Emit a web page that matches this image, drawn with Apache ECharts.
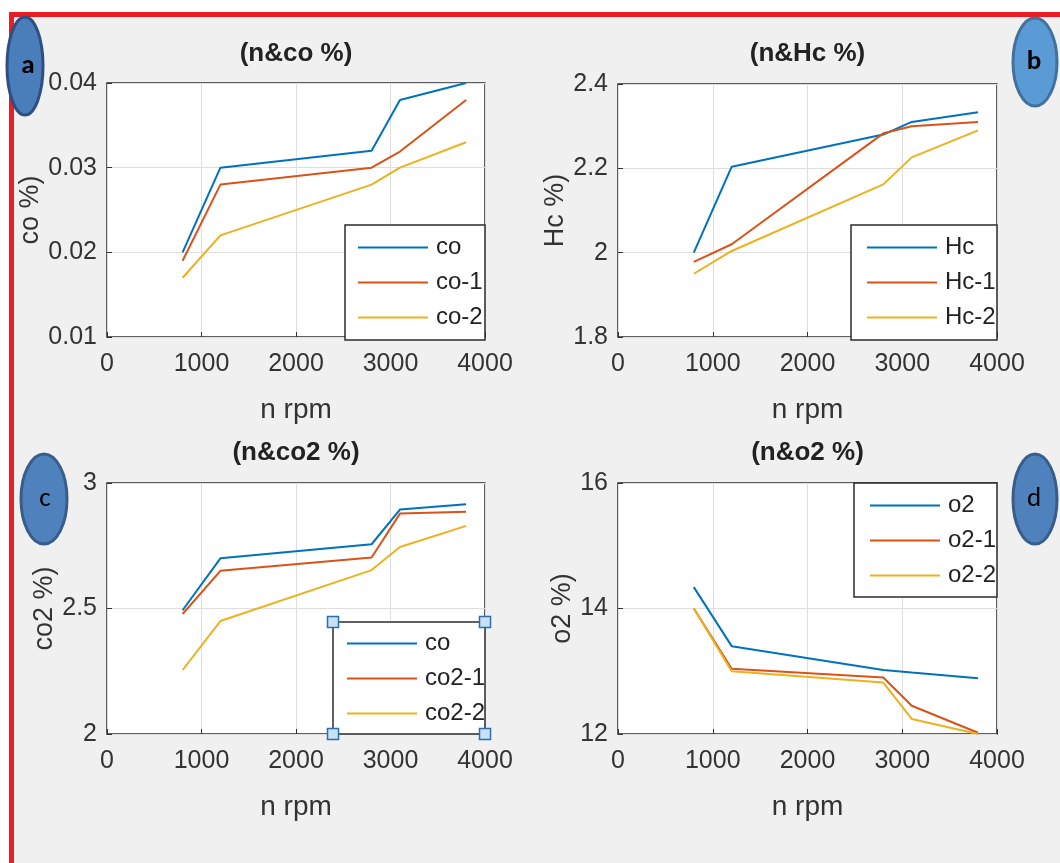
<!DOCTYPE html>
<html>
<head>
<meta charset="utf-8">
<script src="https://cdn.jsdelivr.net/npm/echarts@6/dist/echarts.min.js"></script>
<style>
  html, body { margin: 0; padding: 0; background: #fff; }
  #chart { width: 1060px; height: 863px; }
</style>
</head>
<body>
<div id="chart"></div>
<script>
// engine speed (rpm) shared by all four panels
const rpm = [800, 1200, 2800, 3100, 3800];

// (a) co %
const coA = [0.020, 0.030, 0.032, 0.038, 0.040];
const coA1 = [0.019, 0.028, 0.030, 0.0319, 0.038];
const coA2 = [0.017, 0.022, 0.028, 0.030, 0.033];

// (b) Hc %
const hc = [2.00, 2.204, 2.28, 2.31, 2.333];
const hc1 = [1.978, 2.02, 2.283, 2.30, 2.31];
const hc2 = [1.95, 2.004, 2.162, 2.226, 2.29];

// (c) co2 %
const co2 = [2.493, 2.70, 2.756, 2.894, 2.915];
const co21 = [2.478, 2.65, 2.703, 2.878, 2.885];
const co22 = [2.255, 2.45, 2.653, 2.745, 2.829];

// (d) o2 %
const o2 = [14.34, 13.40, 13.02, 12.98, 12.89];
const o21 = [14.0, 13.04, 12.90, 12.45, 12.02];
const o22 = [14.0, 13.0, 12.82, 12.24, 12.0];

const titles = ["(n&co %)", "(n&Hc %)", "(n&co2 %)", "(n&o2 %)"];
const yNames = ["co %)", "Hc %)", "co2 %)", "o2 %)"];
const yRanges = [[0.01, 0.04, 0.01], [1.8, 2.4, 0.2], [2, 3, 0.5], [12, 16, 2]];
const seriesNames = [
  ["co", "co-1", "co-2"],
  ["Hc", "Hc-1", "Hc-2"],
  ["co", "co2-1", "co2-2"],
  ["o2", "o2-1", "o2-2"]
];
const seriesValues = [
  [coA, coA1, coA2],
  [hc, hc1, hc2],
  [co2, co21, co22],
  [o2, o21, o22]
];

const FONT = "Liberation Sans, Arial, sans-serif";
const colors = ["#0072BD", "#D95319", "#EDB120"];
const txt = "#333333";

// panel plot boxes
const grids = [
  { left: 107, top: 83, width: 378, height: 254 },
  { left: 618, top: 84, width: 379, height: 253 },
  { left: 107, top: 483, width: 378, height: 251 },
  { left: 618, top: 483, width: 379, height: 251 }
];
const yNameGaps = [56, 48, 45, 42];
const legendPos = [[358, 235], [867, 235], [347, 631], [870, 493]];
const legendBoxes = [
  [345, 225, 140, 115],
  [851, 225, 146, 115],
  [333, 622, 152, 112],
  [854, 483, 143, 114]
];

const chart = echarts.init(document.getElementById("chart"));

const xAxis = [];
const yAxis = [];
const series = [];
const legend = [];
const title = [];

grids.forEach(function (g, i) {
  xAxis.push({
    type: "value", gridIndex: i, min: 0, max: 4000, interval: 1000,
    name: "n rpm", nameLocation: "middle", nameGap: 59,
    nameTextStyle: { fontSize: 28, color: txt, fontFamily: FONT },
    axisLine: { show: false },
    axisTick: { inside: true, length: 5, lineStyle: { color: txt } },
    axisLabel: { fontSize: 25, color: txt, fontFamily: FONT, margin: 15,
      formatter: function (v) { return String(v); } },
    splitLine: { lineStyle: { color: "#dedede" } }
  });
  yAxis.push({
    type: "value", gridIndex: i,
    min: yRanges[i][0], max: yRanges[i][1], interval: yRanges[i][2],
    name: yNames[i], nameLocation: "middle", nameGap: yNameGaps[i],
    nameTextStyle: { fontSize: 27, color: txt, fontFamily: FONT },
    axisLine: { show: false },
    axisTick: { inside: true, length: 5, lineStyle: { color: txt } },
    axisLabel: { fontSize: 25, color: txt, fontFamily: FONT, margin: 10 },
    splitLine: { lineStyle: { color: "#dedede" } }
  });
  seriesNames[i].forEach(function (nm, k) {
    series.push({
      name: nm, type: "line", xAxisIndex: i, yAxisIndex: i,
      symbol: "none", color: colors[k],
      lineStyle: { width: 2, color: colors[k] },
      data: rpm.map(function (x, j) { return [x, seriesValues[i][k][j]]; })
    });
  });
  legend.push({
    data: seriesNames[i], orient: "vertical",
    left: legendPos[i][0], top: legendPos[i][1], padding: 0,
    icon: "rect", itemWidth: 70, itemHeight: 2, itemGap: 10, selectedMode: false,
    textStyle: { fontSize: 24, lineHeight: 25, color: "#222", fontFamily: FONT, padding: [0, 0, 0, 3] }
  });
  title.push({
    text: titles[i], left: g.left + g.width / 2, textAlign: "center",
    top: i < 2 ? 41 : 440, padding: 0,
    textStyle: { fontSize: 26, fontWeight: "bold", color: "#222", fontFamily: FONT }
  });
});

// frame, legend boxes and panel letters
const graphic = [
  { type: "rect", z: -10, shape: { x: 14, y: 17, width: 1046, height: 846 }, style: { fill: "#f0f0f0" } },
  { type: "rect", z: 20, shape: { x: 9, y: 12, width: 1051, height: 5 }, style: { fill: "#ed1c24" } },
  { type: "rect", z: 20, shape: { x: 9, y: 12, width: 5, height: 851 }, style: { fill: "#ed1c24" } }
];
legendBoxes.forEach(function (b) {
  graphic.push({
    type: "rect", z: 3, shape: { x: b[0], y: b[1], width: b[2], height: b[3] },
    style: { fill: "#fff", stroke: "#2b2b2b", lineWidth: 1.5 }
  });
});
// selection handles on legend (c)
const lb = legendBoxes[2];
[[lb[0], lb[1]], [lb[0] + lb[2], lb[1]], [lb[0], lb[1] + lb[3]], [lb[0] + lb[2], lb[1] + lb[3]]].forEach(function (p) {
  graphic.push({
    type: "rect", z: 6, shape: { x: p[0] - 5.5, y: p[1] - 5.5, width: 11, height: 11 },
    style: { fill: "#c9e1f5", stroke: "#2a70b0", lineWidth: 1.5 }
  });
});
const badges = [
  { cx: 25, cy: 66, rx: 18, ry: 49, fill: "#4a7ebb", stroke: "#2f4f7f", t: "a", bold: true, tx: 28 },
  { cx: 1035, cy: 62, rx: 22, ry: 44, fill: "#5b9bd5", stroke: "#41719c", t: "b", bold: true, tx: 1034 },
  { cx: 44, cy: 499, rx: 23, ry: 45, fill: "#4f81bd", stroke: "#385d8a", t: "c", bold: false, tx: 45 },
  { cx: 1035, cy: 499, rx: 22, ry: 45, fill: "#4f81bd", stroke: "#385d8a", t: "d", bold: false, tx: 1034 }
];
badges.forEach(function (b) {
  graphic.push({
    type: "ellipse", z: 30, shape: { cx: b.cx, cy: b.cy, rx: b.rx, ry: b.ry },
    style: { fill: b.fill, stroke: b.stroke, lineWidth: 3 }
  });
  graphic.push({
    type: "text", z: 31, x: b.tx, y: b.cy,
    style: {
      text: b.t, fill: "#000", fontSize: 27, fontWeight: b.bold ? "bold" : "normal",
      fontFamily: "Carlito, Liberation Sans, Arial, sans-serif", align: "center", verticalAlign: "middle"
    }
  });
});

chart.setOption({
  backgroundColor: "#ffffff",
  animation: false,
  title: title,
  legend: legend,
  grid: grids.map(function (g) {
    return {
      left: g.left, top: g.top, width: g.width, height: g.height,
      show: true, backgroundColor: "#ffffff", borderColor: "#2b2b2b", borderWidth: 1.5
    };
  }),
  xAxis: xAxis,
  yAxis: yAxis,
  series: series,
  graphic: graphic
});
</script>
</body>
</html>
